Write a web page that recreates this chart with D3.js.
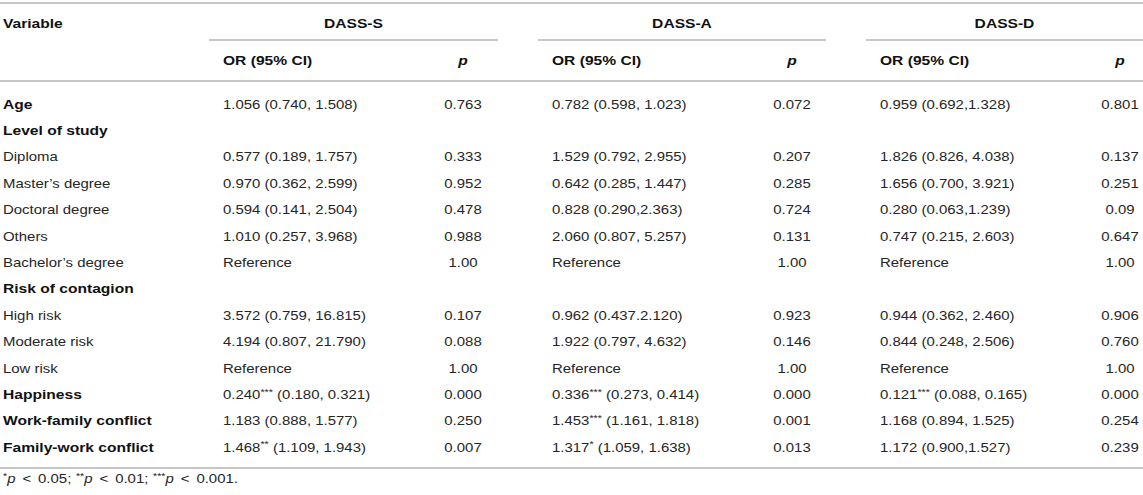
<!DOCTYPE html>
<html>
<head>
<meta charset="utf-8">
<script src="https://cdn.jsdelivr.net/npm/d3@7"></script>
<style>
  html, body { margin: 0; padding: 0; background: #fff; }
  svg text { font-family: "Liberation Sans", Arial, Helvetica, sans-serif; }
</style>
</head>
<body>
<div id="table"></div>
<script>
// ======================================
// Table data
// ======================================
var variables = [
  "Age", "Level of study", "Diploma", "Master\u2019s degree", "Doctoral degree",
  "Others", "Bachelor\u2019s degree", "Risk of contagion", "High risk",
  "Moderate risk", "Low risk", "Happiness", "Work-family conflict",
  "Family-work conflict"
];

var boldRows = ["Age", "Level of study", "Risk of contagion", "Happiness",
  "Work-family conflict", "Family-work conflict"];

var scales = ["DASS-S", "DASS-A", "DASS-D"];

var dassSOr = ["1.056 (0.740, 1.508)", "", "0.577 (0.189, 1.757)", "0.970 (0.362, 2.599)",
  "0.594 (0.141, 2.504)", "1.010 (0.257, 3.968)", "Reference", "",
  "3.572 (0.759, 16.815)", "4.194 (0.807, 21.790)", "Reference",
  "0.240*** (0.180, 0.321)", "1.183 (0.888, 1.577)", "1.468** (1.109, 1.943)"];
var dassSP = ["0.763", "", "0.333", "0.952", "0.478", "0.988", "1.00", "",
  "0.107", "0.088", "1.00", "0.000", "0.250", "0.007"];

var dassAOr = ["0.782 (0.598, 1.023)", "", "1.529 (0.792, 2.955)", "0.642 (0.285, 1.447)",
  "0.828 (0.290,2.363)", "2.060 (0.807, 5.257)", "Reference", "",
  "0.962 (0.437.2.120)", "1.922 (0.797, 4.632)", "Reference",
  "0.336*** (0.273, 0.414)", "1.453*** (1.161, 1.818)", "1.317* (1.059, 1.638)"];
var dassAP = ["0.072", "", "0.207", "0.285", "0.724", "0.131", "1.00", "",
  "0.923", "0.146", "1.00", "0.000", "0.001", "0.013"];

var dassDOr = ["0.959 (0.692,1.328)", "", "1.826 (0.826, 4.038)", "1.656 (0.700, 3.921)",
  "0.280 (0.063,1.239)", "0.747 (0.215, 2.603)", "Reference", "",
  "0.944 (0.362, 2.460)", "0.844 (0.248, 2.506)", "Reference",
  "0.121*** (0.088, 0.165)", "1.168 (0.894, 1.525)", "1.172 (0.900,1.527)"];
var dassDP = ["0.801", "", "0.137", "0.251", "0.09", "0.647", "1.00", "",
  "0.906", "0.760", "1.00", "0.000", "0.254", "0.239"];

var orValues = [dassSOr, dassAOr, dassDOr];
var pValues = [dassSP, dassAP, dassDP];

var footParts = [["*", "p", "<", "0.05;"], ["**", "p", "<", "0.01;"], ["***", "p", "<", "0.001."]];

// ======================================
// Layout
// ======================================
var svgWidth = 1143;
var svgHeight = 495;

var fontSize = 13;
var stretch = 1.15;      // glyphs in the reference are wide for their height
var boldStretch = 1.2;
var textColor = "#262626";
var boldColor = "#111";
var ruleColor = "#b3b3b3";

// group column geometry: sub-rule start/end, OR column left, p column centre
var groupX = d3.scaleOrdinal().domain(scales).range([209, 538, 866]);
var groupEnd = d3.scaleOrdinal().domain(scales).range([498, 826, 1143]);
var orX = d3.scaleOrdinal().domain(scales).range([223, 552, 880]);
var pX = d3.scaleOrdinal().domain(scales).range([463, 792, 1120]);

var rowY = d3.scalePoint()
  .domain(d3.range(variables.length))
  .range([104, 447]);

var svg = d3.select("#table")
  .append("svg")
  .attr("width", svgWidth)
  .attr("height", svgHeight);

// helper: stretched text centred vertically on y
function addText(parent, x, y, bold, anchor) {
  return parent.append("text")
    .attr("transform", `translate(${x},${y}) scale(${bold ? boldStretch : stretch},1)`)
    .attr("dy", "0.36em")
    .attr("text-anchor", anchor || "start")
    .attr("font-size", fontSize)
    .attr("font-weight", bold ? "bold" : "normal")
    .attr("fill", bold ? boldColor : textColor);
}

// write OR string with superscript significance stars
function writeOr(textSel, str) {
  var m = str.match(/^([0-9.]+)(\*+)(.*)$/);
  if (!m) {
    textSel.text(str);
    return;
  }
  textSel.append("tspan").text(m[1]);
  textSel.append("tspan")
    .attr("font-size", fontSize * 0.72)
    .attr("dy", "-0.45em")
    .text(m[2]);
  textSel.append("tspan")
    .attr("dy", "0.32em")
    .text(m[3]);
}

// ======================================
// Rules
// ======================================
function rule(x1, x2, y) {
  svg.append("line")
    .attr("x1", x1).attr("x2", x2)
    .attr("y1", y).attr("y2", y)
    .attr("stroke", ruleColor)
    .attr("stroke-width", 1.6);
}

rule(0, svgWidth, 3);
scales.forEach(s => rule(groupX(s), groupEnd(s), 40));
rule(0, svgWidth, 81);
rule(0, svgWidth, 468);

// ======================================
// Header
// ======================================
addText(svg, 3, 23, true).text("Variable");

scales.forEach(s => {
  addText(svg, (groupX(s) + groupEnd(s)) / 2, 23, true, "middle").text(s);
  addText(svg, orX(s), 60, true).text("OR (95% CI)");
  addText(svg, pX(s), 60, true, "middle")
    .attr("font-style", "italic")
    .text("p");
});

// ======================================
// Body rows
// ======================================
var body = svg.append("g");

variables.forEach((v, i) => {
  var y = rowY(i);
  addText(body, 3, y, boldRows.indexOf(v) >= 0).text(v);

  scales.forEach((s, j) => {
    var orStr = orValues[j][i];
    var pStr = pValues[j][i];
    if (orStr) writeOr(addText(body, orX(s), y, false), orStr);
    if (pStr) addText(body, pX(s), y, false, "middle").text(pStr);
  });
});

// ======================================
// Footnote
// ======================================
var note = addText(svg, 3, 483, false);
footParts.forEach((part, k) => {
  note.append("tspan")
    .attr("font-size", fontSize * 0.72)
    .attr("dx", k === 0 ? 0 : 4)
    .attr("dy", "-0.4em")
    .text(part[0]);
  note.append("tspan")
    .attr("font-style", "italic")
    .attr("dy", "0.29em")
    .text(part[1]);
  note.append("tspan").attr("dx", 6).text(part[2]);
  note.append("tspan").attr("dx", 6).text(part[3]);
});
</script>
</body>
</html>
